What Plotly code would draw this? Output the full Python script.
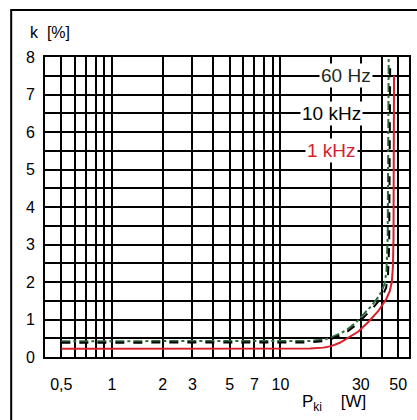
import math
import plotly.graph_objects as go

# Loss factor k [%] versus interrupting power P_ki [W] at three frequencies
p_60hz = [0.5, 1, 2, 5, 10, 15, 18, 20, 22.5, 25, 28, 31, 34, 37, 39.5, 41.5, 42.6, 43.3, 43.7, 43.9]
k_60hz = [0.42, 0.42, 0.42, 0.42, 0.42, 0.43, 0.46, 0.52, 0.62, 0.74, 0.92, 1.12, 1.32, 1.52, 1.72, 1.95, 2.3, 3.2, 5.2, 8.0]

p_10khz = [0.5, 1, 2, 5, 10, 15, 18, 20, 22.5, 25, 28, 31.8, 35, 37.8, 40.5, 42.4, 43.5, 44.2, 44.6, 44.8]
k_10khz = [0.38, 0.38, 0.38, 0.38, 0.38, 0.39, 0.42, 0.48, 0.57, 0.68, 0.85, 1.08, 1.28, 1.46, 1.65, 1.85, 2.2, 3.0, 5.0, 7.8]

p_1khz = [0.5, 1, 2, 5, 10, 15, 18, 20, 22.5, 25, 29, 33, 38, 42.4, 44.5, 45.8, 46.5, 46.9, 47.1, 47.2]
k_1khz = [0.22, 0.22, 0.22, 0.22, 0.22, 0.23, 0.25, 0.29, 0.38, 0.5, 0.68, 0.92, 1.22, 1.54, 1.75, 2.0, 2.4, 3.2, 5.0, 7.5]

x_tick_vals = [0.5, 1, 2, 3, 5, 7, 10, 30, 50]
x_tick_text = ["0,5", "1", "2", "3", "5", "7", "10", "30", "50"]
x_minor_grid = [0.6, 0.7, 0.8, 0.9, 4, 6, 8, 9, 20, 40]
y_tick_vals = [0, 1, 2, 3, 4, 5, 6, 7, 8]

# Curve labels: text, P position [W], k position [%]
label_text = ["60 Hz", "10 kHz", "1 kHz"]
label_p = [24.6, 20.0, 20.0]
label_k = [7.5, 6.5, 5.5]

FONT = "Liberation Sans, Arial, sans-serif"
RED = "#d81e2a"
GREEN = "#2c6a3c"
label_colors = ["#1e2a1e", "black", RED]

fig = go.Figure()
fig.add_trace(go.Scatter(x=p_60hz, y=k_60hz, mode="lines", name="60 Hz",
                         line=dict(color=GREEN, width=2, dash="dashdot")))
fig.add_trace(go.Scatter(x=p_10khz, y=k_10khz, mode="lines", name="10 kHz",
                         line=dict(color="black", width=2, dash="dash")))
fig.add_trace(go.Scatter(x=p_1khz, y=k_1khz, mode="lines", name="1 kHz",
                         line=dict(color=RED, width=2)))

# Curve labels sit on the grid with a white box behind them
# (annotation x on a log axis is given as log10 of the value)
for txt, xp, yk, col in zip(label_text, label_p, label_k, label_colors):
    fig.add_annotation(x=math.log10(xp), y=yk, xref="x", yref="y", text=txt,
                       showarrow=False, xanchor="center", yanchor="middle",
                       bgcolor="white", borderpad=1,
                       font=dict(family=FONT, size=19, color=col))

# Axis titles
fig.add_annotation(x=-0.047, y=1.08, xref="paper", yref="paper",
                   text="k\u00a0\u00a0[%]", showarrow=False, xanchor="left",
                   yanchor="middle", font=dict(family=FONT, size=16, color="black"))
fig.add_annotation(x=0.700, y=-0.153, xref="paper", yref="paper",
                   text="P<sub>ki</sub>\u00a0\u00a0\u00a0\u00a0[W]", showarrow=False,
                   xanchor="left", yanchor="middle",
                   font=dict(family=FONT, size=17, color="black"))

# Outer frame around the whole figure
fig.add_shape(type="rect", xref="paper", yref="paper",
              x0=-0.0929, y0=-0.23, x1=1.03, y1=1.1567,
              line=dict(color="black", width=2), fillcolor="rgba(0,0,0,0)")

fig.update_xaxes(
    type="log", range=[-0.398, 1.763],
    tickmode="array", tickvals=x_tick_vals, ticktext=x_tick_text,
    ticks="outside", ticklen=12, tickcolor="rgba(0,0,0,0)",
    showgrid=True, gridcolor="black", gridwidth=2,
    minor=dict(tickmode="array", tickvals=x_minor_grid, showgrid=True,
               gridcolor="black", gridwidth=2, ticks=""),
    showline=True, linecolor="black", linewidth=2, mirror=True,
    zeroline=False, tickfont=dict(family=FONT, size=16, color="black"),
)
fig.update_yaxes(
    range=[0, 8], tickmode="array", tickvals=y_tick_vals,
    ticks="outside", ticklen=5, tickcolor="rgba(0,0,0,0)",
    showgrid=True, gridcolor="black", gridwidth=2,
    minor=dict(dtick=0.5, showgrid=True, gridcolor="black", gridwidth=2, ticks=""),
    showline=True, linecolor="black", linewidth=2, mirror=True,
    zeroline=False, tickfont=dict(family=FONT, size=16, color="black"),
)

fig.update_layout(
    width=417, height=420,
    margin=dict(l=45, r=6, t=57, b=63),
    paper_bgcolor="white", plot_bgcolor="white",
    showlegend=False,
    font=dict(family=FONT, size=16, color="black"),
)

fig.write_html("out.html")
